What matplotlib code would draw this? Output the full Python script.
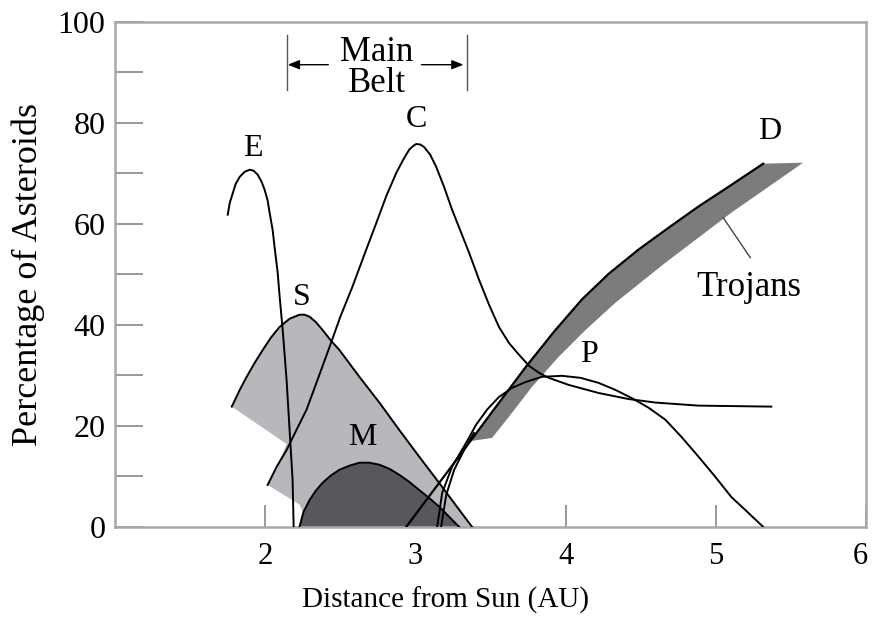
import numpy as np
import matplotlib
matplotlib.use("Agg")
import matplotlib.pyplot as plt
import matplotlib.transforms as mtransforms

# values (distance in AU, percent)
e_x = [1.750, 1.764, 1.784, 1.803, 1.830, 1.863, 1.896, 1.923, 1.950, 1.976, 1.996, 2.016,
       2.029, 2.049, 2.062, 2.082, 2.096, 2.116, 2.142, 2.162, 2.182, 2.189]
e_y = [61.8, 64.2, 66.1, 67.9, 69.3, 70.3, 70.7, 70.5, 69.7, 68.3, 66.7, 64.6,
       62.2, 58.8, 55.4, 50.5, 45.5, 39.0, 29.1, 19.2, 9.3, 0.0]

c_x = [2.016, 2.076, 2.142, 2.208, 2.275, 2.348, 2.428, 2.500, 2.580, 2.660, 2.740, 2.806,
       2.873, 2.919, 2.959, 2.985, 3.005, 3.032, 3.058, 3.098, 3.138, 3.191, 3.244, 3.357,
       3.424, 3.490, 3.556, 3.623, 3.689, 3.756, 3.822, 3.888, 4.021, 4.220, 4.420, 4.600,
       4.885, 5.370]
c_y = [8.3, 11.9, 15.2, 19.2, 23.2, 29.1, 35.6, 41.6, 47.5, 53.9, 60.2, 65.5,
       70.1, 72.7, 74.7, 75.4, 75.8, 75.7, 75.2, 73.7, 71.3, 67.3, 62.8, 54.3,
       48.9, 44.0, 39.6, 36.4, 34.1, 31.9, 30.5, 29.5, 28.1, 26.5, 25.3, 24.6,
       24.0, 23.8]

s_top_x = [1.777, 1.830, 1.876, 1.930, 1.983, 2.036, 2.096, 2.162, 2.228, 2.262, 2.295,
           2.335, 2.381, 2.434, 2.494, 2.627, 2.760, 2.892, 3.025, 3.158, 3.291, 3.377]
s_top_y = [23.8, 27.1, 29.7, 32.5, 35.0, 37.4, 39.6, 41.2, 42.0, 42.0, 41.6,
           40.6, 39.0, 37.0, 35.0, 29.7, 24.6, 19.2, 13.9, 8.7, 3.4, 0.0]
# lower edge of the S band, right to left
s_low_x = [2.295, 2.228, 2.016, 2.082, 2.142, 1.777]
s_low_y = [0.0, 4.4, 8.3, 12.1, 16.4, 23.8]

m_x = [2.228, 2.255, 2.295, 2.335, 2.381, 2.434, 2.494, 2.560, 2.627, 2.693, 2.760, 2.826,
       2.892, 2.959, 3.025, 3.092, 3.158, 3.244, 3.291]
m_y = [0.0, 3.0, 5.3, 7.1, 8.7, 10.1, 11.3, 12.1, 12.7, 12.7, 12.3, 11.5,
       10.3, 8.9, 7.3, 5.7, 4.0, 1.4, 0.0]

p_x = [3.145, 3.178, 3.244, 3.337, 3.404, 3.477, 3.556, 3.643, 3.736, 3.842, 3.975, 4.100,
       4.220, 4.333, 4.440, 4.552, 4.665, 4.772, 4.885, 4.997, 5.104, 5.216, 5.316]
p_y = [0.0, 6.7, 11.9, 16.6, 20.2, 23.2, 25.7, 27.5, 28.7, 29.7, 29.9, 29.5,
       28.5, 27.1, 25.5, 23.6, 21.2, 17.8, 13.9, 9.9, 5.9, 2.8, 0.0]

d_x = [2.939, 3.138, 3.337, 3.537, 3.736, 3.922, 4.108, 4.287, 4.486, 4.685, 4.884, 5.104, 5.316]
d_y = [0.0, 7.9, 15.8, 23.8, 31.7, 38.6, 45.0, 50.1, 54.9, 59.2, 63.4, 67.7, 71.9]

d2_x = [3.171, 3.205, 3.258, 3.324, 3.390]
d2_y = [0.0, 6.3, 11.3, 15.2, 18.6]

# Trojans band: lower edge, right to left
tro_low_x = [5.582, 5.104, 4.665, 4.333, 4.134, 3.955, 3.776, 3.623, 3.510, 3.371]
tro_low_y = [72.1, 62.2, 52.3, 44.4, 39.0, 33.7, 27.7, 21.8, 17.6, 17.0]

labels = ["E", "C", "S", "M", "P", "D"]
label_x = [1.916, 3.010, 2.242, 2.647, 4.154, 5.360]
label_y = [75.0, 80.6, 45.5, 17.6, 34.1, 78.2]

plt.rcParams['font.family'] = ['Liberation Serif', 'DejaVu Serif']

fig = plt.figure(figsize=(8.72, 6.22), dpi=100)
ax = fig.add_axes([0.132, 0.153, 0.861, 0.812])

light = '#b8b8bc'
dark = '#58585c'
mid = '#7c7c7e'

# S band
ax.fill(s_top_x + s_low_x, s_top_y + s_low_y, color=light, lw=0, zorder=1)
ax.plot(s_top_x, s_top_y, color='black', lw=1.4, zorder=4)

# M
ax.fill(m_x, m_y, color=dark, lw=0, zorder=2)
ax.plot(m_x, m_y, color='black', lw=1.4, zorder=4)

# Trojans band, upper edge follows D from x=3.5
up_x = [3.371] + d_x[3:]
up_y = [17.0] + d_y[3:]
ax.fill(up_x + tro_low_x, up_y + tro_low_y, color=mid, lw=0, zorder=2)

ax.plot(e_x, e_y, color='black', lw=1.4, zorder=4)
ax.plot(c_x, c_y, color='black', lw=1.4, zorder=4)
ax.plot(p_x, p_y, color='black', lw=1.4, zorder=4)
ax.plot(d_x, d_y, color='black', lw=1.6, zorder=4)
ax.plot(d2_x, d2_y, color='black', lw=1.4, zorder=4)

for lab, lx, ly in zip(labels, label_x, label_y):
    ax.text(lx, ly, lab, fontsize=23, ha='center', va='center', zorder=5)

# Trojans label and pointer
ax.plot([5.05, 5.23], [61.2, 53.3], color='#444444', lw=1.0, zorder=4)
ax.text(5.22, 47.3, "Trojans", fontsize=25, ha='center', va='center')

# Main Belt marker
for bx in [2.142, 3.344]:
    ax.plot([bx, bx], [86.5, 97.4], color='#555555', lw=1.0, clip_on=False)
ax.text(2.743, 90.8, "Main\nBelt", fontsize=25, ha='center', va='center', linespacing=0.92)
arrow = dict(arrowstyle='-|>,head_length=0.7,head_width=0.28', color='black', lw=1.0,
             shrinkA=0, shrinkB=0)
ax.annotate('', xy=(2.15, 91.5), xytext=(2.42, 91.5), arrowprops=arrow)
ax.annotate('', xy=(3.32, 91.5), xytext=(3.04, 91.5), arrowprops=arrow)

ax.set_xlim(1, 6)
ax.set_ylim(0, 100)
ax.set_xticks([2, 3, 4, 5, 6])
ax.set_yticks([0, 20, 40, 60, 80, 100])
ax.set_yticks([10, 30, 50, 70, 90], minor=True)

for sp in ax.spines.values():
    sp.set_color('#a8a8a8')
    sp.set_linewidth(1.8)

ax.tick_params(axis='y', which='both', direction='in', length=20, width=1.2,
               color='#888888', labelsize=23, pad=7)
ax.tick_params(axis='x', direction='in', length=16, width=1.2,
               color='#888888', labelsize=22, pad=11)

# keep the last x label inside the picture
last = ax.get_xticklabels()[-1]
last.set_transform(last.get_transform() + mtransforms.ScaledTranslation(-6 / 100, 0, fig.dpi_scale_trans))

ax.set_xlabel("Distance from Sun (AU)", fontsize=21)
ax.xaxis.set_label_coords(0.44, -0.118)
ax.set_ylabel("Percentage of Asteroids", fontsize=26)
ax.yaxis.set_label_coords(-0.093, 0.5)

fig.savefig("out.png", dpi=100)
